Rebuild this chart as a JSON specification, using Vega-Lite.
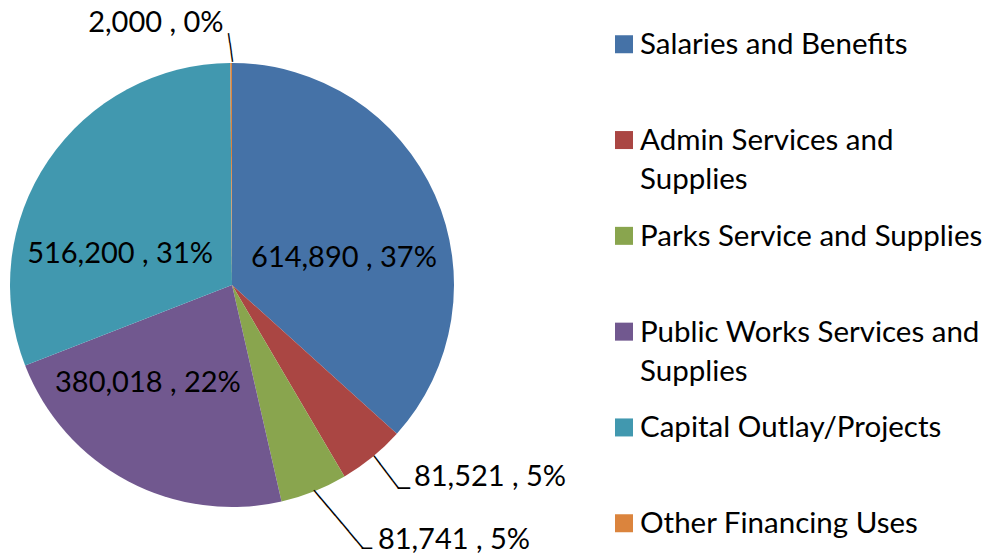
{
  "$schema": "https://vega.github.io/schema/vega-lite/v6.json",
  "width": 464,
  "height": 542,
  "autosize": {"type": "none"},
  "padding": {"left": 0, "top": 14, "right": 525, "bottom": 0},
  "background": "white",
  "config": {"view": {"stroke": null}},
  "data": {
    "values": [
      {"i": 1, "category": "Salaries and Benefits", "value": 614890, "label": "614,890 , 37%"},
      {"i": 2, "category": "Admin Services and Supplies", "value": 81521, "label": "81,521 , 5%"},
      {"i": 3, "category": "Parks Service and Supplies", "value": 81741, "label": "81,741 , 5%"},
      {"i": 4, "category": "Public Works Services and Supplies", "value": 380018, "label": "380,018 , 22%"},
      {"i": 5, "category": "Capital Outlay/Projects", "value": 516200, "label": "516,200 , 31%"},
      {"i": 6, "category": "Other Financing Uses", "value": 2000, "label": "2,000 , 0%"}
    ]
  },
  "encoding": {
    "theta": {"field": "value", "type": "quantitative", "stack": true},
    "order": {"field": "i", "type": "quantitative"},
    "detail": {"field": "category", "type": "nominal"}
  },
  "layer": [
    {
      "mark": {"type": "arc", "radius": 222},
      "encoding": {
        "color": {
          "field": "category",
          "type": "nominal",
          "scale": {
            "domain": ["Salaries and Benefits", "Admin Services and Supplies", "Parks Service and Supplies", "Public Works Services and Supplies", "Capital Outlay/Projects", "Other Financing Uses"],
            "range": ["#4572A7", "#AA4643", "#89A54E", "#71588F", "#4198AF", "#DB843D"]
          },
          "legend": {
            "orient": "none",
            "legendX": 609.25,
            "legendY": 15.5,
            "direction": "vertical",
            "title": null,
            "symbolType": "square",
            "symbolSize": 324,
            "symbolStrokeWidth": 0,
            "symbolOpacity": 1,
            "labelFont": "Lato",
            "labelFontSize": 29.5,
            "labelColor": "#000000",
            "labelLimit": 1000,
            "labelOffset": 1.25,
            "labelBaseline": "alphabetic",
            "rowPadding": 25.8,
            "gridAlign": "all",
            "labelExpr": "datum.label === 'Admin Services and Supplies' ? ['Admin Services and', 'Supplies'] : datum.label === 'Public Works Services and Supplies' ? ['Public Works Services and', 'Supplies'] : datum.label",
            "encode": {"labels": {"update": {"dy": {"value": 10}, "lineHeight": {"value": 39}}}}
          }
        }
      }
    },
    {
      "mark": {"type": "text", "radius": 115.2, "thetaOffset": 0.181, "font": "Lato", "fontSize": 29, "fill": "#000000", "align": "center", "baseline": "middle"},
      "encoding": {"text": {"condition": {"test": "datum.category === 'Salaries and Benefits'", "field": "label", "type": "nominal"}, "value": ""}}
    },
    {
      "mark": {"type": "text", "radius": 116.2, "thetaOffset": -0.325, "font": "Lato", "fontSize": 29, "fill": "#000000", "align": "center", "baseline": "middle"},
      "encoding": {"text": {"condition": {"test": "datum.category === 'Capital Outlay/Projects'", "field": "label", "type": "nominal"}, "value": ""}}
    },
    {
      "mark": {"type": "text", "radius": 129.1, "thetaOffset": 0.222, "font": "Lato", "fontSize": 29, "fill": "#000000", "align": "center", "baseline": "middle"},
      "encoding": {"text": {"condition": {"test": "datum.category === 'Public Works Services and Supplies'", "field": "label", "type": "nominal"}, "value": ""}}
    },
    {
      "mark": {"type": "text", "radius": 272.8, "thetaOffset": -0.279, "font": "Lato", "fontSize": 29, "fill": "#000000", "align": "center", "baseline": "middle"},
      "encoding": {"text": {"condition": {"test": "datum.category === 'Other Financing Uses'", "field": "label", "type": "nominal"}, "value": ""}}
    },
    {
      "mark": {"type": "text", "radius": 321.6, "thetaOffset": -0.247, "font": "Lato", "fontSize": 29, "fill": "#000000", "align": "center", "baseline": "middle"},
      "encoding": {"text": {"condition": {"test": "datum.category === 'Admin Services and Supplies'", "field": "label", "type": "nominal"}, "value": ""}}
    },
    {
      "mark": {"type": "text", "radius": 338.1, "thetaOffset": -0.338, "font": "Lato", "fontSize": 29, "fill": "#000000", "align": "center", "baseline": "middle"},
      "encoding": {"text": {"condition": {"test": "datum.category === 'Parks Service and Supplies'", "field": "label", "type": "nominal"}, "value": ""}}
    },
    {
      "mark": {"type": "text", "radius": 242.3, "thetaOffset": -0.002, "angle": 52.9, "font": "DejaVu Sans Mono", "fontSize": 17, "fill": "#000000", "align": "center", "baseline": "middle"},
      "encoding": {"text": {"condition": {"test": "datum.category === 'Admin Services and Supplies'", "value": "────"}, "value": ""}}
    },
    {
      "mark": {"type": "text", "radius": 266.8, "thetaOffset": -0.016, "angle": 0, "font": "DejaVu Sans Mono", "fontSize": 20, "fill": "#000000", "align": "center", "baseline": "middle"},
      "encoding": {"text": {"condition": {"test": "datum.category === 'Admin Services and Supplies'", "value": "─"}, "value": ""}}
    },
    {
      "mark": {"type": "text", "radius": 257.6, "thetaOffset": -0.0438, "angle": 49.8, "font": "DejaVu Sans Mono", "fontSize": 18, "fill": "#000000", "align": "center", "baseline": "middle"},
      "encoding": {"text": {"condition": {"test": "datum.category === 'Parks Service and Supplies'", "value": "───────"}, "value": ""}}
    },
    {
      "mark": {"type": "text", "radius": 296.5, "thetaOffset": -0.0944, "angle": 0, "font": "DejaVu Sans Mono", "fontSize": 17, "fill": "#000000", "align": "center", "baseline": "middle"},
      "encoding": {"text": {"condition": {"test": "datum.category === 'Parks Service and Supplies'", "value": "─"}, "value": ""}}
    },
    {
      "mark": {"type": "text", "radius": 237.5, "thetaOffset": -0.0047, "angle": 82.1, "font": "DejaVu Sans Mono", "fontSize": 16, "fill": "#000000", "align": "center", "baseline": "middle"},
      "encoding": {"text": {"condition": {"test": "datum.category === 'Other Financing Uses'", "value": "───"}, "value": ""}}
    }
  ]
}
